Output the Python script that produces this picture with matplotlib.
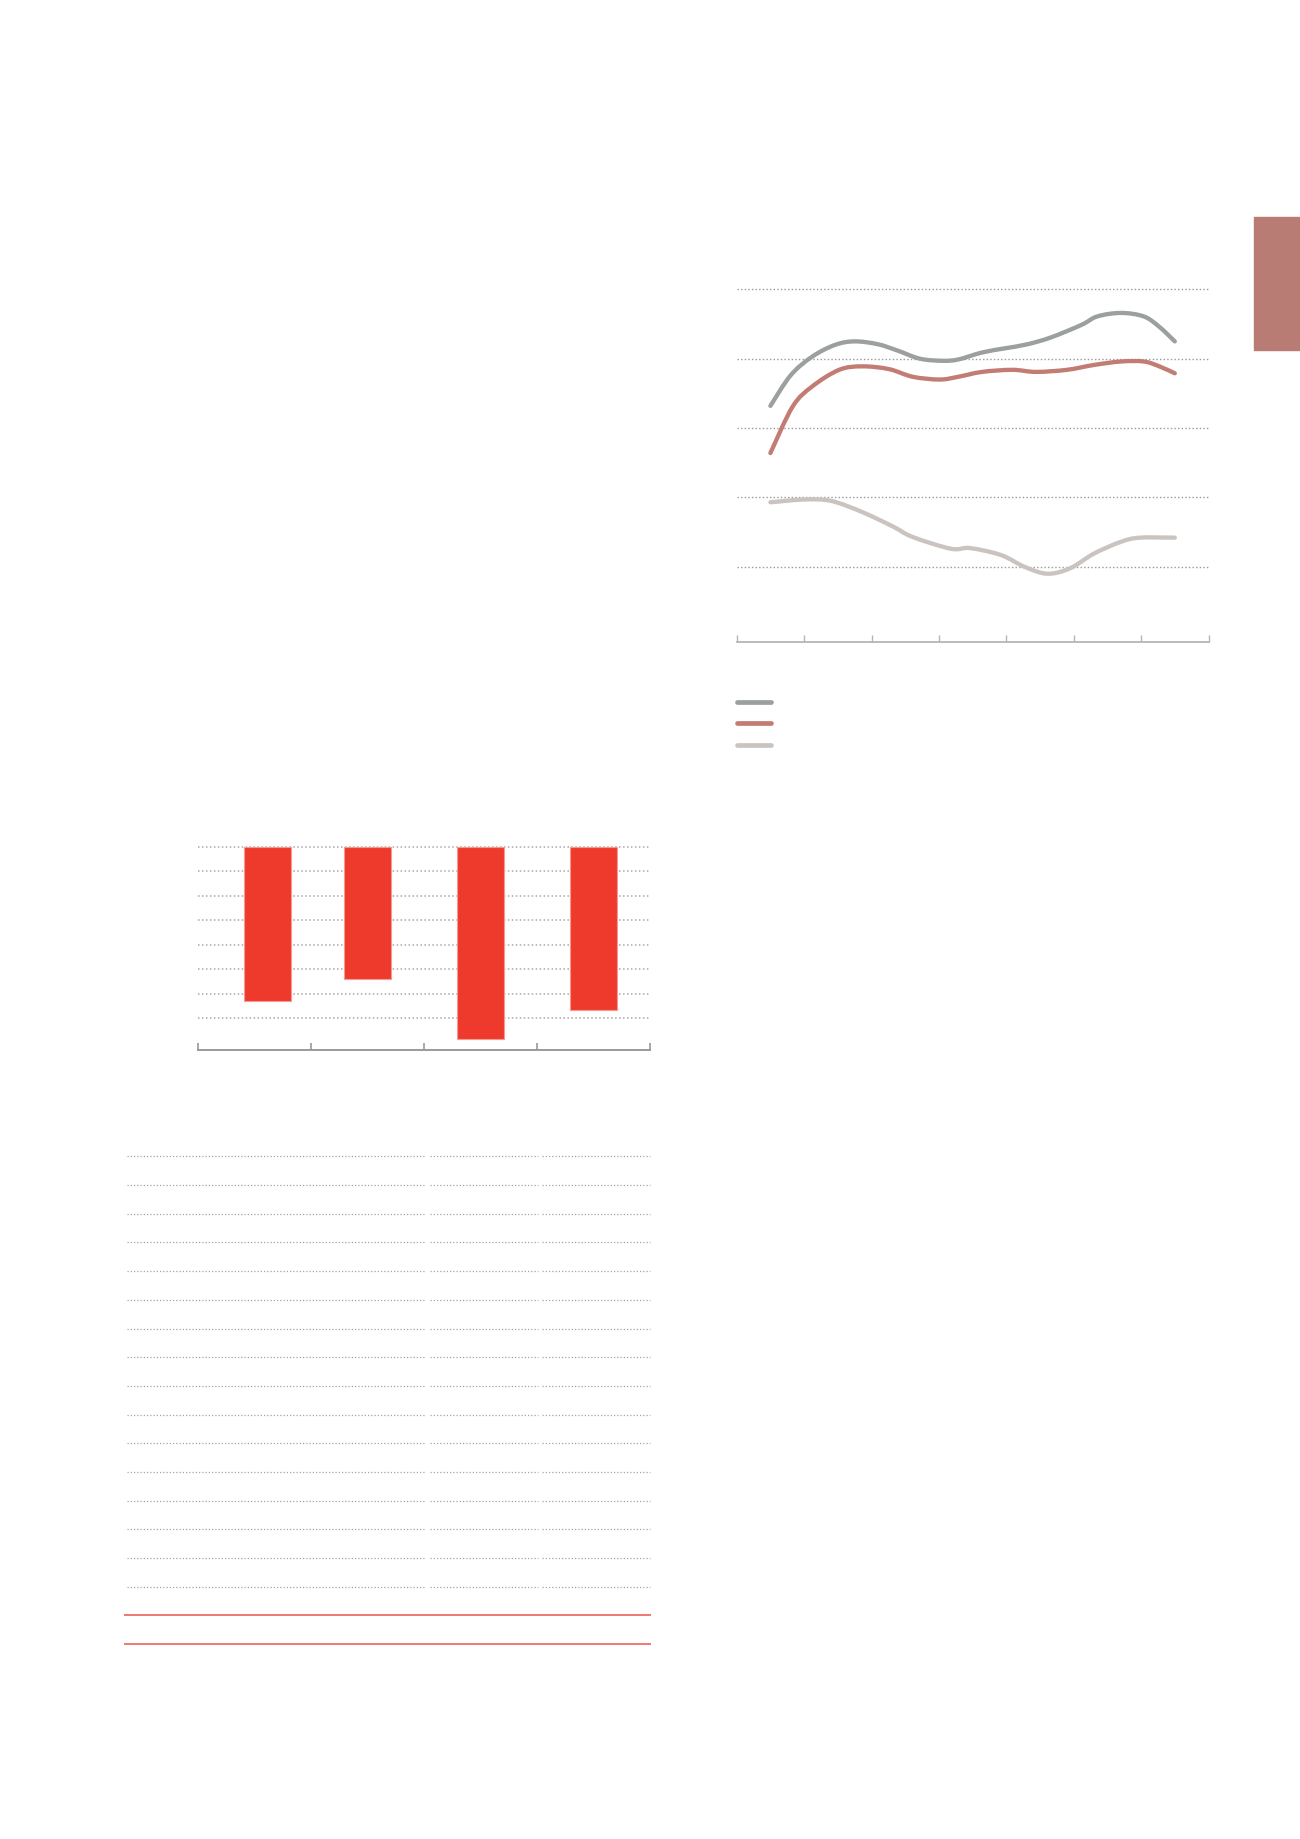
import numpy as np
import matplotlib
matplotlib.use("Agg")
import matplotlib.pyplot as plt
from matplotlib.lines import Line2D
from matplotlib.patches import Rectangle, PathPatch
from matplotlib.path import Path

# line chart series (x in category units, y in grid units)
grey_x = [0, 0.30, 0.62, 0.96, 1.25, 1.59, 1.88, 2.22, 2.56, 2.79, 3.14, 3.48, 3.82, 4.17, 4.62, 4.85, 5.20, 5.54, 5.77, 6.0]
grey_y = [3.32, 3.76, 4.03, 4.20, 4.25, 4.21, 4.12, 4.00, 3.97, 3.99, 4.09, 4.15, 4.21, 4.31, 4.49, 4.61, 4.66, 4.61, 4.46, 4.25]
red_x = [0, 0.33, 0.62, 1.02, 1.36, 1.76, 2.11, 2.51, 2.79, 3.14, 3.59, 3.94, 4.40, 4.80, 5.20, 5.54, 5.77, 6.0]
red_y = [2.64, 3.31, 3.60, 3.84, 3.89, 3.85, 3.74, 3.70, 3.74, 3.81, 3.84, 3.81, 3.84, 3.91, 3.96, 3.96, 3.89, 3.79]
light_x = [0, 0.50, 0.90, 1.36, 1.82, 2.11, 2.68, 2.96, 3.42, 3.77, 4.11, 4.45, 4.80, 5.20, 5.48, 6.0]
light_y = [1.93, 1.97, 1.95, 1.79, 1.58, 1.43, 1.26, 1.27, 1.17, 1.00, 0.90, 0.98, 1.19, 1.36, 1.42, 1.42]
line_grid = [1, 2, 3, 4, 5]
n_periods = 7

# bar chart
bar_values = [-6.29, -5.41, -7.83, -6.68]
bar_grid = [0, -1, -2, -3, -4, -5, -6, -7]

# table: 16 dotted rows and 2 red total rows
table_rows = 16
table_total_rows = 2

W, H = 1300, 1839
fig = plt.figure(figsize=(W / 100, H / 100), dpi=100)
fig.patch.set_facecolor("white")

def px_axes(left, top, right, bottom):
    return fig.add_axes([left / W, 1 - bottom / H, (right - left) / W, (bottom - top) / H])

def smooth_path(xs, ys):
    # catmull-rom through the points, drawn as cubic bezier segments
    p = np.column_stack([xs, ys]).astype(float)
    verts = [p[0]]
    codes = [Path.MOVETO]
    for i in range(len(p) - 1):
        p0 = p[i - 1] if i > 0 else p[i]
        p3 = p[i + 2] if i + 2 < len(p) else p[i + 1]
        c1 = p[i] + (p[i + 1] - p0) / 6
        c2 = p[i + 1] - (p3 - p[i]) / 6
        verts += [c1, c2, p[i + 1]]
        codes += [Path.CURVE4] * 3
    return Path(verts, codes)

GREY = "#9b9f9e"
RED = "#c27c74"
LIGHT = "#cbc3c0"

# ---- line chart ----
ax = px_axes(736.7, 285.9, 1208.5, 641.7)
for y in line_grid:
    ax.axhline(y, color="#9a9a9a", lw=1.0, ls=(0, (1, 1.6)), zorder=1)
for xs, ys, c in [(grey_x, grey_y, GREY), (red_x, red_y, RED), (light_x, light_y, LIGHT)]:
    ax.add_patch(PathPatch(smooth_path(xs, ys), facecolor="none", edgecolor=c, lw=3.1,
                           capstyle="round", joinstyle="round", zorder=3))
ax.set_xlim(-0.5, n_periods - 0.5)
ax.set_ylim(-0.08, 5.05)
for s in ["top", "right", "left"]:
    ax.spines[s].set_visible(False)
ax.spines["bottom"].set_color("#b5b5b5")
ax.spines["bottom"].set_linewidth(1.3)
ax.set_xticks(np.arange(n_periods + 1) - 0.5)
ax.tick_params(axis="x", direction="in", length=5, width=1, color="#b5b5b5", labelbottom=False)
ax.set_yticks([])

# legend swatches
for yy, c in zip([701.7, 723.0, 744.7], [GREY, RED, LIGHT]):
    fig.add_artist(Line2D([737 / W, 771 / W], [1 - yy / H, 1 - yy / H], color=c, lw=3.4,
                          solid_capstyle="round"))

# side tab
fig.add_artist(Rectangle((1254 / W, 1 - 350 / H), 46 / W, 133 / H, color="#b87c75",
                         transform=fig.transFigure))

# ---- bar chart ----
bx = px_axes(197.6, 844.6, 650.3, 1050)
for y in bar_grid:
    bx.axhline(y, color="#a8a8a8", lw=1.1, ls=(0, (1, 1.6)), zorder=1)
pos = np.arange(len(bar_values)) + np.array([0.115, 0, 0, 0])
bx.bar(pos, bar_values, width=0.415, color="#ee3a2c", edgecolor="#f59a90", linewidth=0.8, zorder=3)
bx.set_xlim(-0.5, len(bar_values) - 0.5)
bx.set_ylim(-8.30, 0.1)
for s in ["top", "right", "left"]:
    bx.spines[s].set_visible(False)
bx.spines["bottom"].set_color("#9a9a9a")
bx.spines["bottom"].set_linewidth(1.4)
bx.set_xticks(np.arange(len(bar_values) + 1) - 0.5)
bx.tick_params(axis="x", direction="in", length=5, width=1.2, color="#9a9a9a", labelbottom=False)
bx.set_yticks([])

# ---- table rules ----
tx = px_axes(124, 1156.1 - 14, 651, 1644.3 + 14)
tx.set_xlim(124, 651)
n_lines = table_rows + table_total_rows
tx.set_ylim(n_lines - 0.5, -0.5)
tx.axis("off")
cols = [(127, 424.5), (430, 538), (542, 650)]
for r in range(table_rows):
    for a, b in cols:
        tx.plot([a, b], [r, r], color="#a5a5a5", lw=0.9, ls=(0, (1, 1.6)))
for r in range(table_rows, n_lines):
    tx.plot([124, 651], [r, r], color="#ef6f66", lw=1.3)

fig.savefig("out.png", dpi=100, facecolor="white")
